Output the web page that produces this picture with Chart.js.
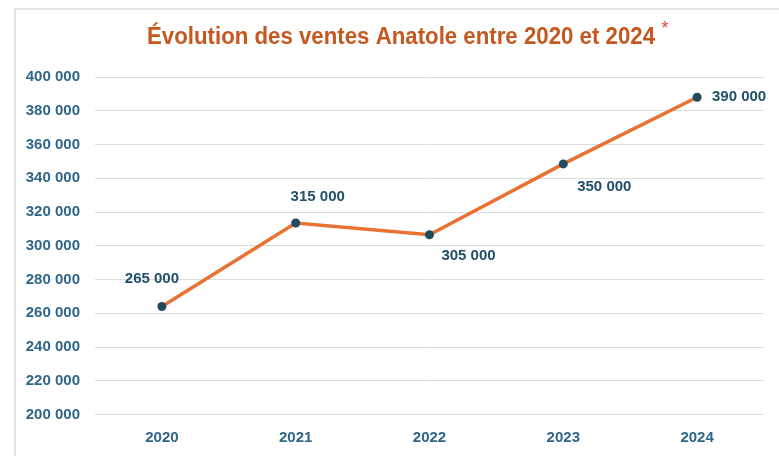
<!DOCTYPE html>
<html lang="fr">
<head>
<meta charset="utf-8">
<title>Évolution des ventes Anatole</title>
<script src="https://cdn.jsdelivr.net/npm/chart.js@4.4.1/dist/chart.umd.min.js"></script>
<style>
  html, body { margin: 0; padding: 0; background: #fff; }
  #frame { position: absolute; left: 14px; top: 8px; width: 800px; height: 500px;
           border-left: 2px solid #e4e4e4; border-top: 2px solid #e4e4e4; }
  #wrap { position: absolute; left: 0; top: 0; width: 779px; height: 456px; }
</style>
</head>
<body>
<div id="frame"></div>
<div id="wrap"><canvas id="chart"></canvas></div>
<script>
// Data
const years = ['2020', '2021', '2022', '2023', '2024'];
const sales = [264000, 313500, 306500, 348500, 388000];
const salesLabels = ['265 000', '315 000', '305 000', '350 000', '390 000'];
const titleText = 'Évolution des ventes Anatole entre 2020 et 2024';

const ORANGE = '#e97231';
const DOT = '#1f4b5e';
const TICK = '#2f6689';
const LABEL = '#21506a';
const FONT = '"Liberation Sans", Arial, sans-serif';

function fmt(v) { return String(v).replace(/\B(?=(\d{3})+(?!\d))/g, ' '); }

// title + red asterisk drawn by hand (title squeezed to look condensed)
const titlePlugin = {
  id: 'titlePlugin',
  afterDraw(chart) {
    const ctx = chart.ctx;
    const cx = 401, target = 508;
    ctx.save();
    ctx.font = 'bold 23px ' + FONT;
    const w = ctx.measureText(titleText).width;
    const k = Math.min(1, target / w);
    ctx.fillStyle = '#c4581f';
    ctx.textAlign = 'center';
    ctx.textBaseline = 'middle';
    ctx.translate(cx, 38);
    ctx.scale(k, 1);
    ctx.fillText(titleText, 0, 0);
    ctx.restore();
    ctx.save();
    ctx.font = '18px ' + FONT;
    ctx.fillStyle = '#e8402a';
    ctx.textAlign = 'center';
    ctx.textBaseline = 'middle';
    ctx.fillText('*', cx + target / 2 + 10, 29);
    ctx.restore();
  }
};

// point value labels, offsets relative to each point
const labelPlugin = {
  id: 'labelPlugin',
  afterDatasetsDraw(chart, args, opts) {
    const ctx = chart.ctx;
    const meta = chart.getDatasetMeta(0);
    ctx.save();
    ctx.font = 'bold 15px ' + FONT;
    ctx.fillStyle = LABEL;
    ctx.textAlign = 'center';
    ctx.textBaseline = 'middle';
    meta.data.forEach((pt, i) => {
      const o = opts.offsets[i];
      ctx.fillText(salesLabels[i], pt.x + o[0], pt.y + o[1]);
    });
    ctx.restore();
  }
};

new Chart(document.getElementById('chart').getContext('2d'), {
  type: 'line',
  data: {
    labels: years,
    datasets: [{
      data: sales,
      borderColor: ORANGE,
      borderWidth: 3.5,
      pointBackgroundColor: DOT,
      pointBorderColor: DOT,
      pointRadius: 4.5,
      pointBorderWidth: 0,
      tension: 0,
      fill: false
    }]
  },
  options: {
    responsive: true,
    maintainAspectRatio: false,
    animation: false,
    layout: { padding: { left: 15, right: 15, top: 77, bottom: 0 } },
    plugins: {
      legend: { display: false },
      title: { display: false },
      tooltip: { enabled: false },
      labelPlugin: { offsets: [[-10, -28], [22, -26], [39, 21], [41, 23], [42, 0]] }
    },
    scales: {
      x: {
        offset: true,
        grid: { display: false, drawTicks: false },
        border: { display: false },
        ticks: { color: TICK, font: { family: FONT, size: 15, weight: 'bold' }, padding: 14 },
        afterFit(s) { s.height = 41.5; }
      },
      y: {
        min: 200000,
        max: 400000,
        ticks: {
          stepSize: 20000,
          color: TICK,
          font: { family: FONT, size: 15, weight: 'bold' },
          padding: 15,
          callback: v => fmt(v)
        },
        grid: { color: '#dcdcdc', lineWidth: 1, drawTicks: false },
        border: { display: false },
        afterFit(s) { s.width = 80; }
      }
    }
  },
  plugins: [titlePlugin, labelPlugin]
});
</script>
</body>
</html>
